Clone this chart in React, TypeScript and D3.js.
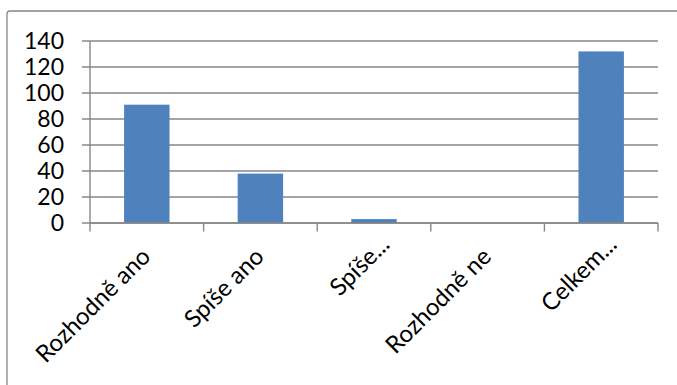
import React from "react";
import * as d3 from "d3";

// Survey answers and their counts
const categories = ["Rozhodně ano", "Spíše ano", "Spíše ne", "Rozhodně ne", "Celkem"];
const axisLabels = ["Rozhodně ano", "Spíše ano", "Spíše...", "Rozhodně ne", "Celkem..."];
const truncated = [false, false, true, false, true];
const values = [91, 38, 3, 0, 132];
const yTicks = [0, 20, 40, 60, 80, 100, 120, 140];

const W = 677;
const H = 385;
const plot = { left: 90, right: 658, top: 41, bottom: 223 };
const FONT = "Lato, 'Open Sans', sans-serif";
const GRID = "#878787";
const BAR = "#4F81BD";

export default function App() {
  const x = d3
    .scaleBand<string>()
    .domain(categories)
    .range([plot.left, plot.right])
    .paddingInner(0.6)
    .paddingOuter(0.3);
  const y = d3.scaleLinear().domain([0, 140]).range([plot.bottom, plot.top]);
  const step = x.step();
  const boundaries = d3.range(categories.length + 1).map((i) => plot.left + i * step);

  return (
    <svg
      width={W}
      height={H}
      viewBox={`0 0 ${W} ${H}`}
      style={{ position: "absolute", left: 0, top: 0, background: "#fff" }}
    >
      {/* chart frame */}
      <rect x={7} y={11} width={W + 20} height={H + 20} rx={3} fill="#fff" stroke={GRID} strokeWidth={1.3} />

      {/* horizontal gridlines and y ticks */}
      {yTicks.map((t) => (
        <g key={t}>
          <line x1={plot.left - 8} x2={plot.right} y1={y(t)} y2={y(t)} stroke={GRID} strokeWidth={1.4} />
          <text
            x={64}
            y={y(t)}
            dy="0.36em"
            textAnchor="end"
            fontFamily={FONT}
            fontSize={23}
            fill="#000"
          >
            {t}
          </text>
        </g>
      ))}

      {/* bars */}
      {values.map((v, i) => (
        <rect
          key={categories[i]}
          x={x(categories[i])}
          y={y(v)}
          width={x.bandwidth()}
          height={y(0) - y(v)}
          fill={BAR}
        />
      ))}

      {/* axes */}
      <line x1={plot.left} x2={plot.left} y1={plot.top} y2={plot.bottom} stroke={GRID} strokeWidth={1.4} />
      <line x1={plot.left} x2={plot.right} y1={plot.bottom} y2={plot.bottom} stroke={GRID} strokeWidth={1.4} />
      {boundaries.map((bx, i) => (
        <line key={i} x1={bx} x2={bx} y1={plot.bottom} y2={plot.bottom + 8.5} stroke={GRID} strokeWidth={1.4} />
      ))}

      {/* rotated category labels */}
      {axisLabels.map((lbl, i) => {
        const cx = (x(categories[i]) as number) + x.bandwidth() / 2;
        return (
          <text
            key={lbl}
            transform={`translate(${cx + 5},${plot.bottom + 35}) rotate(-45)`}
            x={truncated[i] ? 17 : 0}
            textAnchor="end"
            fontFamily={FONT}
            fontSize={24}
            fill="#000"
          >
            {lbl}
          </text>
        );
      })}
    </svg>
  );
}
